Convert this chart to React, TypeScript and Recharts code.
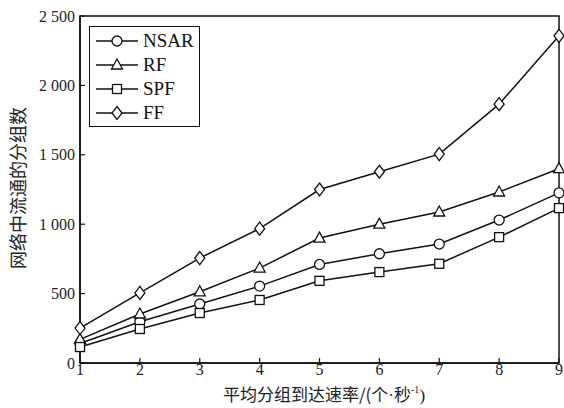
import { LineChart, Line, XAxis, YAxis, ReferenceArea } from "recharts";

const RATES = [1, 2, 3, 4, 5, 6, 7, 8, 9];
const NSAR = [140, 297, 425, 554, 710, 787, 857, 1030, 1226];
const RF = [170, 353, 513, 684, 900, 1000, 1088, 1232, 1400];
const SPF = [115, 245, 360, 454, 592, 655, 715, 907, 1116];
const FF = [252, 505, 756, 968, 1250, 1378, 1505, 1865, 2357];
const Y_TICKS = [0, 500, 1000, 1500, 2000, 2500];

const SERIES = [
  { key: "NSAR", values: NSAR, kind: "circle" },
  { key: "RF", values: RF, kind: "triangle" },
  { key: "SPF", values: SPF, kind: "square" },
  { key: "FF", values: FF, kind: "diamond" },
];

const data = RATES.map((r, i) => {
  const row: Record<string, number> = { rate: r };
  SERIES.forEach((s) => (row[s.key] = s.values[i]));
  return row;
});

const SERIF = "'Liberation Serif', 'DejaVu Serif', serif";
const CJK = "'Noto Sans CJK SC', sans-serif";

function Marker({ cx, cy, kind }: { cx: number; cy: number; kind: string }) {
  const st = { fill: "#fff", stroke: "#111", strokeWidth: 1.3 };
  if (kind === "circle") return <circle cx={cx} cy={cy} r={5} {...st} />;
  if (kind === "square") return <rect x={cx - 4.5} y={cy - 4.5} width={9} height={9} {...st} />;
  if (kind === "triangle")
    return <polygon points={`${cx},${cy - 6} ${cx + 5.5},${cy + 4} ${cx - 5.5},${cy + 4}`} {...st} />;
  return <polygon points={`${cx},${cy - 6.5} ${cx + 5},${cy} ${cx},${cy + 6.5} ${cx - 5},${cy}`} {...st} />;
}

function LegendBox() {
  return (
    <div
      style={{
        position: "absolute",
        left: 89,
        top: 26,
        boxSizing: "border-box",
        width: 111,
        height: 101,
        border: "1.5px solid #111",
        background: "#fff",
        padding: "2px 0 0 5px",
      }}
    >
      {SERIES.map((s) => (
        <div key={s.key} style={{ display: "flex", alignItems: "center", height: 24 }}>
          <svg width={44} height={16}>
            <line x1={1} y1={8} x2={43} y2={8} stroke="#111" strokeWidth={1.5} />
            <Marker cx={22} cy={8} kind={s.kind} />
          </svg>
          <span style={{ fontFamily: SERIF, fontSize: 19, color: "#111", marginLeft: 4, lineHeight: "20px" }}>
            {s.key}
          </span>
        </div>
      ))}
    </div>
  );
}

const fmtY = (v: number) => (v >= 1000 ? `${Math.floor(v / 1000)} ${String(v % 1000).padStart(3, "0")}` : `${v}`);

export default function App() {
  return (
    <div style={{ position: "absolute", left: 0, top: 0, width: 564, height: 408, background: "#fff" }}>
      <LineChart width={564} height={408} data={data} margin={{ top: 16, right: 5, left: 10, bottom: 0 }}>
        <XAxis
          dataKey="rate"
          type="number"
          domain={[1, 9]}
          ticks={RATES}
          height={45}
          tickSize={-5}
          tickMargin={6}
          axisLine={{ stroke: "#111", strokeWidth: 1.5 }}
          tickLine={{ stroke: "#111", strokeWidth: 1.2 }}
          tick={{ fontFamily: SERIF, fontSize: 16, fill: "#222" }}
        />
        <YAxis
          type="number"
          domain={[0, 2500]}
          ticks={Y_TICKS}
          width={70}
          tickSize={-5}
          tickMargin={10}
          tickFormatter={fmtY}
          axisLine={{ stroke: "#111", strokeWidth: 1.5 }}
          tickLine={{ stroke: "#111", strokeWidth: 1.2 }}
          tick={{ fontFamily: SERIF, fontSize: 16, fill: "#222" }}
        />
        <ReferenceArea x1={1} x2={9} y1={0} y2={2500} fill="none" stroke="#111" strokeWidth={1.5} />
        {SERIES.map((s) => (
          <Line
            key={s.key}
            dataKey={s.key}
            stroke="#111"
            strokeWidth={1.5}
            isAnimationActive={false}
            dot={(p: any) => <Marker key={`${s.key}-${p.index}`} cx={p.cx} cy={p.cy} kind={s.kind} />}
            activeDot={false}
          />
        ))}
        <text
          transform="translate(20,188) rotate(-90)"
          textAnchor="middle"
          dominantBaseline="middle"
          fontFamily={CJK}
          fontSize={18}
          fill="#222"
        >
          网络中流通的分组数
        </text>
        <text x={324} y={401} textAnchor="middle" fontFamily={CJK} fontSize={17} fill="#222">
          平均分组到达速率/(个
          <tspan fontFamily={SERIF}>·</tspan>秒
          <tspan fontFamily={SERIF} fontSize={10} dy={-8}>-1</tspan>
          <tspan fontFamily={SERIF} dy={8}>)</tspan>
        </text>
      </LineChart>
      <LegendBox />
    </div>
  );
}
